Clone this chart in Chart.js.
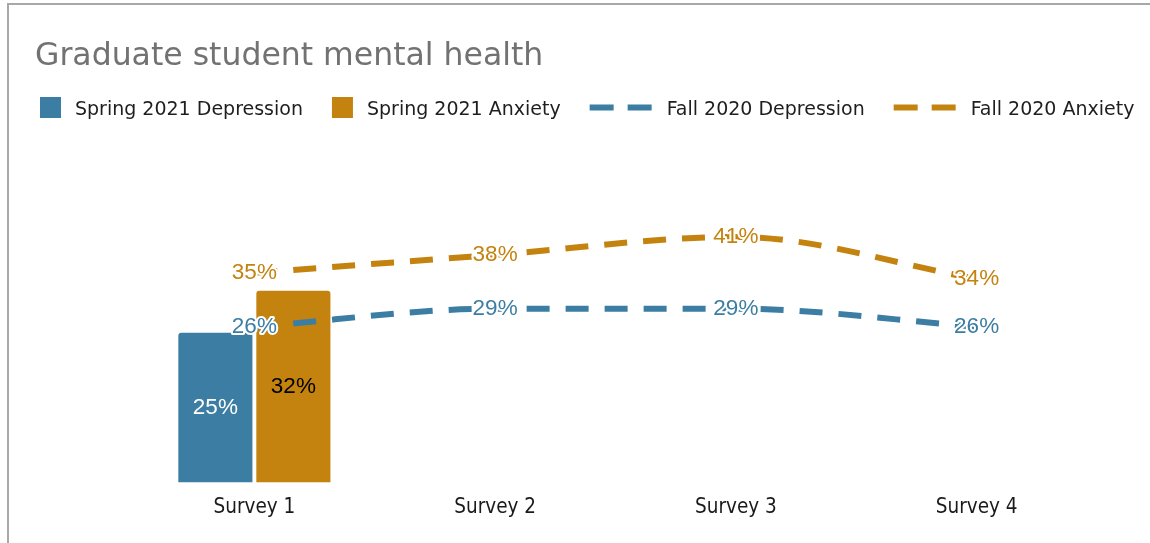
<!DOCTYPE html>
<html>
<head>
<meta charset="utf-8">
<script src="https://cdn.jsdelivr.net/npm/chart.js@4.4.0/dist/chart.umd.min.js"></script>
<style>
  html, body { margin: 0; padding: 0; background: #fff; }
  #wrap { position: relative; width: 1150px; height: 543px; overflow: hidden; }
  #frame { position: absolute; left: 7px; top: 3px; width: 1200px; height: 600px;
           border-left: 2px solid #a8a8a8; border-top: 2px solid #a8a8a8; }
  canvas { position: absolute; left: 0; top: 0; }
</style>
</head>
<body>
<div id="wrap">
  <div id="frame"></div>
  <canvas id="chart" width="1150" height="543"></canvas>
</div>
<script>
const categories = ['Survey 1', 'Survey 2', 'Survey 3', 'Survey 4'];
const spring21Depression = [25, null, null, null];
const spring21Anxiety = [32, null, null, null];
const fall20Depression = [26, 29, 29, 26];
const fall20Anxiety = [35, 38, 41, 34];

const BLUE = '#3c7ea3';
const ORANGE = '#c4830f';
const SANS = '"DejaVu Sans", Verdana, sans-serif';
const COND = '"DejaVu Sans Condensed", "DejaVu Sans", sans-serif';
const NUM = '"Liberation Sans", Arial, sans-serif';

function pct(v){ return v + '%'; }

// value labels: centered in bars, centered on line points with a white halo
const valueLabels = {
  id: 'valueLabels',
  afterDatasetsDraw(chart){
    const ctx = chart.ctx;
    ctx.save();
    ctx.font = '22.5px ' + NUM;
    ctx.textAlign = 'center';
    ctx.textBaseline = 'middle';
    chart.data.datasets.forEach((ds, i) => {
      const meta = chart.getDatasetMeta(i);
      meta.data.forEach((el, j) => {
        const v = ds.data[j];
        if (v == null) return;
        if (ds.type === 'bar') {
          ctx.fillStyle = ds.labelColor;
          ctx.fillText(pct(v), el.x, (el.y + el.base) / 2);
        } else {
          ctx.lineJoin = 'round';
          ctx.lineWidth = 4;
          ctx.strokeStyle = '#fff';
          ctx.strokeText(pct(v), el.x, el.y);
          ctx.fillStyle = ds.borderColor;
          ctx.fillText(pct(v), el.x, el.y);
        }
      });
    });
    ctx.restore();
  }
};

// title and legend drawn at the top of the canvas
const header = {
  id: 'header',
  afterDraw(chart){
    const ctx = chart.ctx;
    ctx.save();
    ctx.fillStyle = '#727272';
    ctx.font = '31.5px ' + SANS;
    ctx.textBaseline = 'alphabetic';
    ctx.fillText('Graduate student mental health', 35, 65);

    ctx.font = '19px ' + SANS;
    let x = 40;
    const cy = 107.5;
    chart.data.datasets.forEach(ds => {
      if (ds.type === 'bar') {
        ctx.fillStyle = ds.backgroundColor;
        ctx.fillRect(x, cy - 10.5, 21, 21);
        x += 35;
      } else {
        ctx.strokeStyle = ds.borderColor;
        ctx.lineWidth = 6;
        ctx.setLineDash([24, 14]);
        ctx.beginPath();
        ctx.moveTo(x, cy);
        ctx.lineTo(x + 62, cy);
        ctx.stroke();
        ctx.setLineDash([]);
        x += 77;
      }
      ctx.fillStyle = '#1e1e1e';
      ctx.fillText(ds.label, x, cy + 7);
      x += ctx.measureText(ds.label).width + 29;
    });
    ctx.restore();
  }
};

new Chart(document.getElementById('chart'), {
  data: {
    labels: categories,
    datasets: [
      { type: 'bar', label: 'Spring 2021 Depression', data: spring21Depression,
        backgroundColor: BLUE, labelColor: '#ffffff', borderRadius: { topLeft: 3, topRight: 3 },
        categoryPercentage: 0.648, barPercentage: 0.95, order: 2 },
      { type: 'bar', label: 'Spring 2021 Anxiety', data: spring21Anxiety,
        backgroundColor: ORANGE, labelColor: '#000000', borderRadius: { topLeft: 3, topRight: 3 },
        categoryPercentage: 0.648, barPercentage: 0.95, order: 2 },
      { type: 'line', label: 'Fall 2020 Depression', data: fall20Depression,
        borderColor: BLUE, borderWidth: 6, borderDash: [23, 16], cubicInterpolationMode: 'monotone',
        pointRadius: 0, fill: false, order: 1 },
      { type: 'line', label: 'Fall 2020 Anxiety', data: fall20Anxiety,
        borderColor: ORANGE, borderWidth: 6, borderDash: [23, 16], cubicInterpolationMode: 'monotone',
        pointRadius: 0, fill: false, order: 1 }
    ]
  },
  options: {
    responsive: false,
    animation: false,
    devicePixelRatio: 1,
    layout: { padding: { left: 134, right: 53, top: 183, bottom: 10 } },
    plugins: { legend: { display: false }, title: { display: false }, tooltip: { enabled: false } },
    scales: {
      x: {
        offset: true,
        grid: { display: false, drawTicks: false },
        border: { display: false },
        ticks: { padding: 13, color: '#1a1a1a', font: { family: COND, size: 20.5 } }
      },
      y: { display: false, min: 0, max: 50 }
    }
  },
  plugins: [valueLabels, header]
});
</script>
</body>
</html>
